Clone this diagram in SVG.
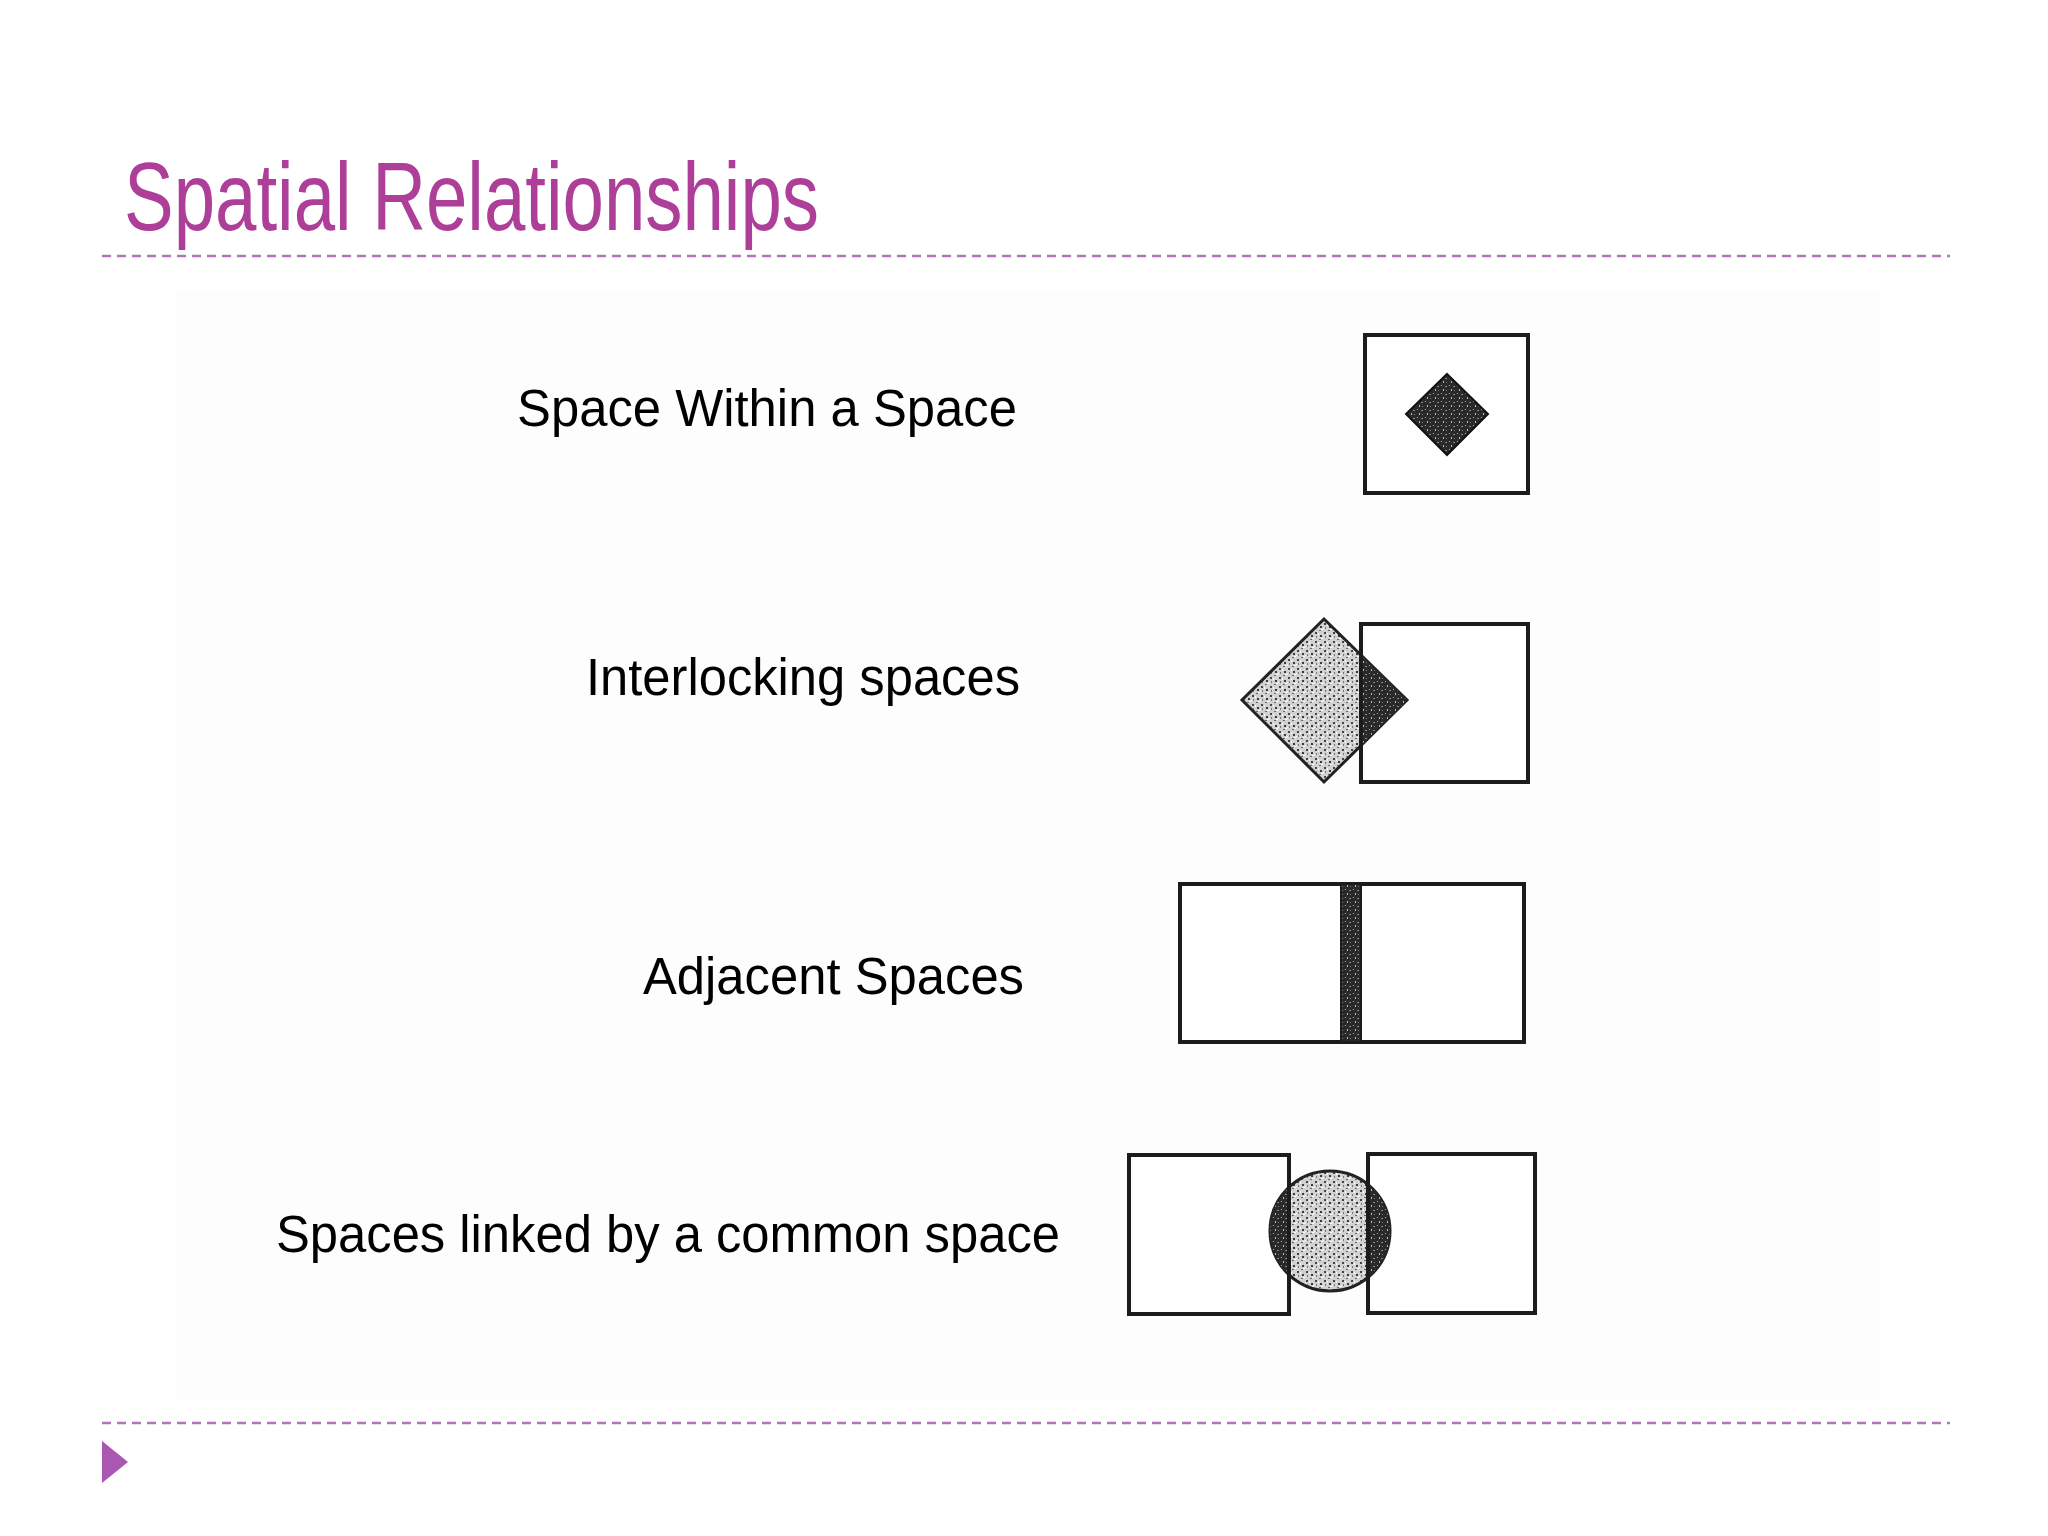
<svg xmlns="http://www.w3.org/2000/svg" width="2048" height="1536" viewBox="0 0 2048 1536">
  <style>
    .title { font-family: "Liberation Sans", Arial, sans-serif; font-size: 96px; fill: #ad3f99; }
    .label { font-family: "Liberation Sans", Arial, sans-serif; font-size: 51px; fill: #000; }
    .rule { stroke: #b474b8; stroke-width: 2.5; stroke-dasharray: 9 6; fill: none; }
    .box { fill: #fff; stroke: #1c1c1c; stroke-width: 4; }
    .edge { stroke: #1c1c1c; stroke-width: 4; fill: none; }
  </style>
  <defs>
    <pattern id="lightStip" width="9" height="9" patternUnits="userSpaceOnUse">
      <rect width="9" height="9" fill="#d2d2d2"/>
      <rect x="1" y="2" width="2" height="2" fill="#444"/>
      <rect x="5" y="0" width="2" height="1" fill="#666"/>
      <rect x="6" y="5" width="2" height="2" fill="#3a3a3a"/>
      <rect x="2" y="6" width="1" height="2" fill="#777"/>
      <rect x="4" y="3" width="1" height="2" fill="#fff"/>
      <rect x="7" y="8" width="2" height="1" fill="#fff"/>
      <rect x="0" y="7" width="1" height="1" fill="#fff"/>
    </pattern>
    <pattern id="darkStip" width="8" height="8" patternUnits="userSpaceOnUse">
      <rect width="8" height="8" fill="#2a2a2a"/>
      <rect x="1" y="1" width="1" height="1" fill="#aaa"/>
      <rect x="5" y="2" width="2" height="1" fill="#888"/>
      <rect x="3" y="5" width="1" height="2" fill="#bbb"/>
      <rect x="6" y="6" width="1" height="1" fill="#777"/>
    </pattern>
    <clipPath id="crescents">
      <rect x="1260" y="1160" width="29" height="150"/>
      <rect x="1368" y="1160" width="30" height="150"/>
    </clipPath>
  </defs>

  <rect width="2048" height="1536" fill="#ffffff"/>
  <rect x="176" y="290" width="1704" height="1110" fill="#fefdfe"/>

  <g id="header">
    <text class="title" x="124" y="230" textLength="695" lengthAdjust="spacingAndGlyphs">Spatial Relationships</text>
    <line class="rule" x1="102" y1="256" x2="1950" y2="256"/>
  </g>

  <g id="footer">
    <line class="rule" x1="102" y1="1423" x2="1950" y2="1423"/>
    <polygon points="102,1441 128,1462 102,1483" fill="#a957b0"/>
  </g>

  <g id="labels">
    <text class="label" x="517" y="426" textLength="500" lengthAdjust="spacingAndGlyphs">Space Within a Space</text>
    <text class="label" x="586" y="695" textLength="434" lengthAdjust="spacingAndGlyphs">Interlocking spaces</text>
    <text class="label" x="643" y="994" textLength="381" lengthAdjust="spacingAndGlyphs">Adjacent Spaces</text>
    <text class="label" x="276" y="1252" textLength="784" lengthAdjust="spacingAndGlyphs">Spaces linked by a common space</text>
  </g>

  <g id="space-within">
    <rect class="box" x="1365" y="335" width="163" height="158"/>
    <polygon points="1447,374 1488,414 1447,455 1406,414" fill="url(#darkStip)" stroke="#111" stroke-width="2"/>
  </g>

  <g id="interlocking">
    <rect class="box" x="1361" y="624" width="167" height="158"/>
    <polygon points="1324,619 1407,700 1324,782 1242,700" fill="url(#lightStip)" stroke="#222" stroke-width="3"/>
    <polygon points="1361,655 1407,700 1361,745" fill="url(#darkStip)"/>
    <line class="edge" x1="1361" y1="624" x2="1361" y2="782"/>
  </g>

  <g id="adjacent">
    <rect class="box" x="1180" y="884" width="344" height="158"/>
    <rect x="1341" y="884" width="20" height="158" fill="url(#darkStip)" stroke="#1c1c1c" stroke-width="2"/>
  </g>

  <g id="linked">
    <rect class="box" x="1129" y="1155" width="160" height="159"/>
    <rect class="box" x="1368" y="1154" width="167" height="159"/>
    <circle cx="1330" cy="1231" r="60" fill="url(#lightStip)" stroke="#222" stroke-width="3"/>
    <circle cx="1330" cy="1231" r="60" fill="url(#darkStip)" clip-path="url(#crescents)"/>
    <line class="edge" x1="1289" y1="1155" x2="1289" y2="1314"/>
    <line class="edge" x1="1368" y1="1154" x2="1368" y2="1313"/>
  </g>
</svg>
